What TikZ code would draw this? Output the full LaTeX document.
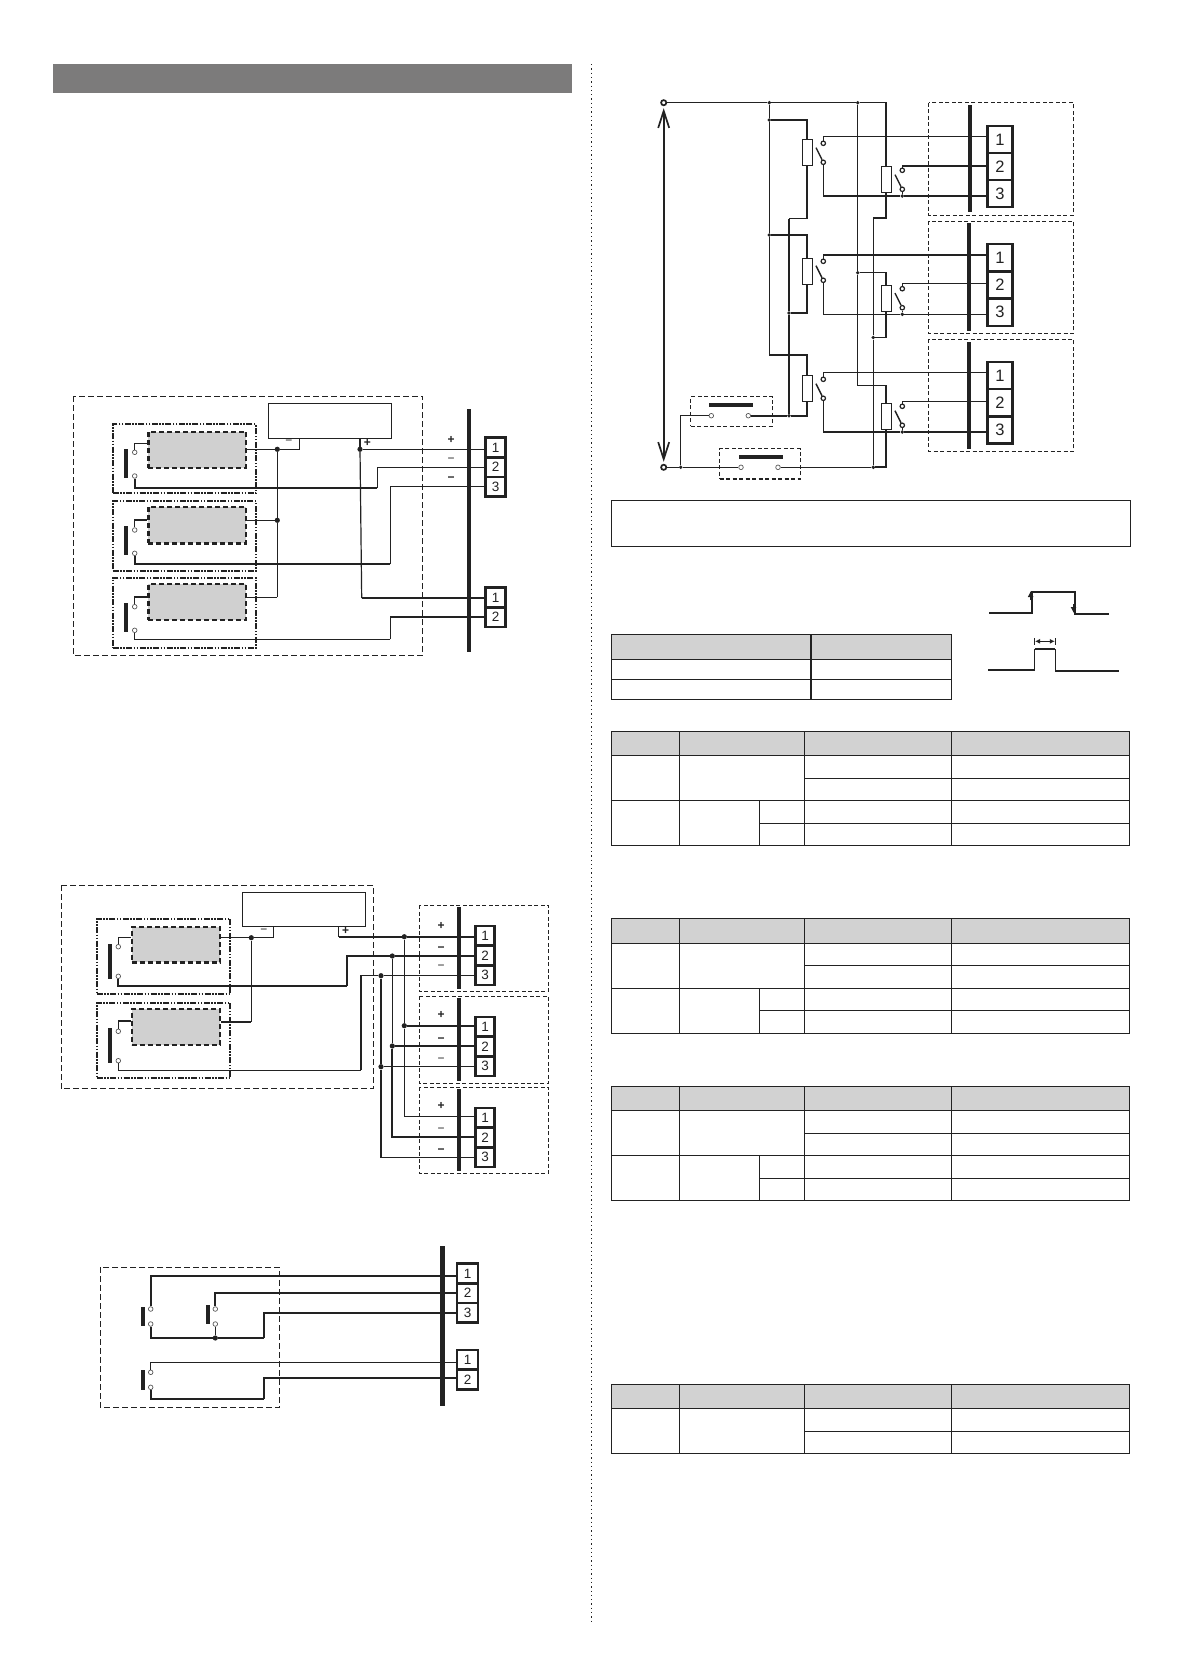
\documentclass[tikz,border=0pt]{standalone}
\usepackage{fontspec}
\setmainfont{Liberation Sans}
\usetikzlibrary{arrows.meta}
\definecolor{ink}{HTML}{222222}
\definecolor{hdr}{HTML}{D2D2D2}
\definecolor{banner}{HTML}{7C7B7B}
\definecolor{blk}{HTML}{D0D0D0}
\tikzset{
  wire/.style={line width=1.2pt,draw=ink},
  hwire/.style={line width=1.8pt,draw=ink},
  contact/.style={circle,draw=ink!75,fill=white,line width=.7pt,minimum size=4.6pt,inner sep=0pt},
  contactB/.style={circle,draw=ink,fill=white,line width=1.2pt,minimum size=4.4pt,inner sep=0pt},
  contactL/.style={circle,draw=ink,fill=white,line width=1.7pt,minimum size=5.2pt,inner sep=0pt},
  junc/.style={circle,fill=ink,minimum size=5.2pt,inner sep=0pt},
  juncS/.style={circle,fill=ink,minimum size=3.8pt,inner sep=0pt},
  barbox/.style={rectangle,fill=ink,inner sep=0pt,minimum width=3.6pt},
  busbar/.style={rectangle,fill=ink,inner sep=0pt,minimum width=4pt},
  term/.style={rectangle,draw=ink,line width=2.5pt,inner sep=0pt,text=ink,font=\fontsize{13.5}{13.5}\selectfont},
  termL/.style={term,font=\fontsize{16.5}{16.5}\selectfont},
  outerdash/.style={draw=ink,line width=.8pt,dash pattern=on 6pt off 3pt},
  dbox/.style={draw=ink,line width=.8pt,dash pattern=on 4pt off 2.5pt},
  relaybox/.style={rectangle,draw=ink,line width=1.9pt,inner sep=0pt,dash pattern=on 6pt off 1.5pt on 1.5pt off 1.5pt on 1.5pt off 1.5pt},
  grayblk/.style={rectangle,fill=blk,draw=ink,line width=2.4pt,inner sep=0pt,dash pattern=on 5pt off 3pt},
  psbox/.style={rectangle,draw=ink,line width=1.4pt,inner sep=0pt},
  coil/.style={rectangle,draw=ink,fill=white,line width=1pt,inner sep=0pt,minimum width=10pt,minimum height=26pt},
  swbox/.style={rectangle,draw=ink,line width=1.4pt,inner sep=0pt,dash pattern=on 4pt off 2.5pt},
  lever/.style={line width=1.4pt,draw=ink},
  pm/.style={inner sep=0pt,text=ink,font=\fontsize{12}{12}\selectfont},
  pmb/.style={inner sep=0pt,text=ink,font=\fontsize{12}{12}\selectfont\bfseries},
  tbl/.style={line width=1.1pt,draw=ink},
  vline/.style={line width=1.7pt,draw=ink,{Straight Barb[length=17pt,width=11pt,line width=1.7pt]}-{Straight Barb[length=17pt,width=11pt,line width=1.7pt]},shorten <=2pt,shorten >=2pt}
}
\newcommand{\termblock}[6]{% style, prefix, x, ytop, w, h ; count from \tcount
  \foreach \i in {1,...,\tcount}{
    \node[#1,minimum width=#5pt,minimum height=#6pt] (#2\i) at (#3,{#4+(\i-0.5)*#6}) {\i};
  }
}
\newcommand{\tcount}{3}
\newcommand{\relaycontact}[3]{%
  \node[contactB] (#1a) at (#2,#3) {};
  \node[contactB] (#1b) at (#2,{#3+19}) {};
  \coordinate (#1l) at ({#2-7.3},{#3+4.4});
  \draw[lever] (#1l) -- (#1b);
}
\newcommand{\gridtable}[6]{%
  \fill[hdr] (611.4,#1) rectangle (1129.5,#2);
  \draw[tbl] (611.4,#1) rectangle (1129.5,#6);
  \draw[tbl] (611.4,#2) -- (1129.5,#2);
  \draw[tbl] (804.2,#3) -- (1129.5,#3);
  \draw[tbl] (611.4,#4) -- (1129.5,#4);
  \draw[tbl] (759.4,#5) -- (1129.5,#5);
  \draw[tbl] (679.3,#1) -- (679.3,#6);
  \draw[tbl] (804.2,#1) -- (804.2,#6);
  \draw[tbl] (951.3,#1) -- (951.3,#6);
  \draw[tbl] (759.4,#4) -- (759.4,#6);
}
\begin{document}
\begin{tikzpicture}[x=1pt,y=-1pt]
\useasboundingbox (0,0) rectangle (1183,1676);
\fill[white] (0,0) rectangle (1183,1676);

% page furniture
\fill[banner] (53,64) rectangle (571.6,92.7);
\draw[ink,line width=1.2pt,dash pattern=on 1.3pt off 3pt] (591.6,64) -- (591.6,1622.7);
\draw[tbl] (611.8,500.3) rectangle (1130.8,546.3);

%%%%%%%%%%%%%% Diagram 1
\draw[outerdash] (73.3,396) rectangle (422.7,655.3);
\node[psbox,minimum width=123.4pt,minimum height=35pt] (ps1) at (330,420.8) {};
\node[relaybox,minimum width=143.3pt,minimum height=69pt] (r1) at (184.35,458.8) {};
\node[relaybox,minimum width=143.3pt,minimum height=69.7pt] (r2) at (184.35,535.85) {};
\node[relaybox,minimum width=143.3pt,minimum height=70pt] (r3) at (184.35,612.7) {};
\node[grayblk,minimum width=97.7pt,minimum height=36pt] (g1) at (197.15,449.7) {};
\node[grayblk,minimum width=97.7pt,minimum height=36.3pt] (g2) at (197.15,525.15) {};
\node[grayblk,minimum width=97.7pt,minimum height=36pt] (g3) at (197.15,602) {};
\node[barbox,minimum height=29pt] (b1) at (125.7,463.5) {};
\node[barbox,minimum height=29pt] (b2) at (125.7,540.2) {};
\node[barbox,minimum height=29pt] (b3) at (125.7,617.5) {};
\node[contact] (c1a) at (134.7,452.3) {};
\node[contact] (c1b) at (134.7,476) {};
\node[contact] (c2a) at (134.7,530) {};
\node[contact] (c2b) at (134.7,553.3) {};
\node[contact] (c3a) at (134.7,606.7) {};
\node[contact] (c3b) at (134.7,630.3) {};
\node[busbar,minimum height=242.4pt] (bus1) at (469,530.5) {};
\renewcommand{\tcount}{3}
\termblock{term}{TA}{495.5}{437.7}{20}{19.67}
\renewcommand{\tcount}{2}
\termblock{term}{TB}{495.5}{587.7}{20}{19.67}
\node[junc] (d1) at (277.3,449.3) {};
\node[junc] (d2) at (277.3,520.3) {};
\node[junc] (d3) at (360,449.3) {};
\coordinate (k1) at (377.3,487.7);
\coordinate (k2) at (390.3,564.3);
\coordinate (k3) at (390.3,639.3);
\coordinate (k4) at (361.7,598);
\coordinate (k5) at (277.3,597.3);
\draw[wire] (c1a) |- (g1.west |- 0,443.3);
\draw[wire] (c2a) |- (g2.west |- 0,520);
\draw[wire] (c3a) |- (g3.west |- 0,597);
\draw[hwire] (c1b) |- (k1);
\draw[wire] (k1) |- (TA2.west);
\draw[hwire] (c2b) |- (k2);
\draw[wire] (k2) |- (TA3.west);
\draw[wire] (c3b) |- (k3);
\draw[wire] (k3) |- (TB2.west |- 0,616.7);
\draw[hwire] (k3 |- 0,616.7) -- (TB2.west |- 0,616.7);
\draw[wire] (g1.east |- d1) -- (d1);
\draw[wire] (d1) -| (ps1.south -| 299.3,0);
\draw[wire] (g2.east |- d2) -- (d2);
\draw[wire] (g3.east |- k5) -- (k5);
\draw[wire] (k5) -- (d2);
\draw[wire] (d2) -- (d1);
\draw[wire] (d3) -- (d3 |- ps1.south);
\draw[wire] (d3) -- (d3 -| TA1.west);
\draw[wire] (d3) -- (k4);
\draw[wire] (k4) -- (k4 -| TB1.west);
\node[pm] (m1) at (289,442.7) {−};
\node[pmb] (m2) at (367.3,442.7) {+};
\node[pmb] (m3) at (451,440) {+};
\node[pm] (m4) at (451,460) {−};
\node[pmb] (m5) at (451,478.7) {−};

%%%%%%%%%%%%%% Diagram 2
\draw[outerdash] (61,885) rectangle (373.3,1088.7);
\draw[dbox] (419.3,905.3) rectangle (548.7,991.3);
\draw[dbox] (419.3,996.3) rectangle (548.7,1083.3);
\draw[dbox] (419.3,1087.3) rectangle (548.7,1173.3);
\node[psbox,minimum width=123.4pt,minimum height=33.6pt] (ps2) at (304,909.5) {};
\node[relaybox,minimum width=133.6pt,minimum height=75.3pt] (r4) at (163.5,956.35) {};
\node[relaybox,minimum width=133.6pt,minimum height=75.3pt] (r5) at (163.5,1040.35) {};
\node[grayblk,minimum width=88.3pt,minimum height=35.6pt] (g4) at (175.85,944.5) {};
\node[grayblk,minimum width=88.3pt,minimum height=35.7pt] (g5) at (175.85,1026.85) {};
\node[barbox,minimum height=34.7pt,minimum width=4pt] (b4) at (110,961.35) {};
\node[barbox,minimum height=34.7pt,minimum width=4pt] (b5) at (110,1045.35) {};
\node[contact] (c4a) at (118.3,946.7) {};
\node[contact] (c4b) at (118.3,976.3) {};
\node[contact] (c5a) at (118.3,1031.3) {};
\node[contact] (c5b) at (118.3,1060.7) {};
\node[busbar,minimum height=81.4pt] (bus2) at (459,948) {};
\node[busbar,minimum height=82.4pt] (bus3) at (459,1039.5) {};
\node[busbar,minimum height=81.7pt] (bus4) at (459,1129.85) {};
\renewcommand{\tcount}{3}
\termblock{term}{UA}{485}{926}{19}{19.67}
\termblock{term}{UB}{485}{1017}{19}{19.67}
\termblock{term}{UC}{485}{1108}{19}{19.67}
\node[junc] (e1) at (251.3,937.7) {};
\node[junc] (f1) at (404.3,936.7) {};
\node[junc] (f2) at (392.3,956) {};
\node[junc] (f3) at (381,975.7) {};
\node[junc] (h1) at (404.3,1025.7) {};
\node[junc] (h2) at (392.3,1046) {};
\node[junc] (h3) at (381,1066.7) {};
\coordinate (q1) at (347.3,985.7);
\coordinate (q2) at (361,1070.3);
\coordinate (q3) at (251.3,1021.7);
\coordinate (q4) at (338.7,936.7);
\draw[wire] (c4a) |- (g4.west |- 0,937.7);
\draw[wire] (c5a) |- (g5.west |- 0,1021);
\draw[hwire] (c4b) |- (q1);
\draw[hwire] (q1) |- (f2);
\draw[wire] (c5b) |- (q2);
\draw[wire] (q2) |- (f3);
\draw[wire] (g4.east |- e1) -- (e1);
\draw[wire] (e1) -| (ps2.south -| 273.3,0);
\draw[hwire] (g5.east |- q3) -- (q3);
\draw[wire] (q3) -- (e1);
\draw[wire] (ps2.south -| q4) -- (q4);
\draw[hwire] (q4) -- (f1);
\draw[hwire] (f1) -- (f1 -| UA1.west);
\draw[hwire] (f2) -- (f2 -| UA2.west);
\draw[wire] (f3) -- (f3 -| UA3.west);
\draw[hwire] (h1) -- (h1 -| UB1.west);
\draw[hwire] (h2) -- (h2 -| UB2.west);
\draw[wire] (h3) -- (h3 -| UB3.west);
\draw[wire] (f1) -- (h1);
\draw[wire] (f2) -- (h2);
\draw[wire] (f3) -- (h3);
\draw[wire] (h1) |- (UC1.west |- 0,1116.7);
\draw[hwire] (h2) |- (UC2.west |- 0,1136.7);
\draw[wire] (h3) |- (UC3.west |- 0,1157.3);
\node[pm] (m6) at (264,931) {−};
\node[pmb] (m7) at (345.7,931) {+};
\node[pmb] (m8) at (441,926) {+};
\node[pmb] (m9) at (441,949) {−};
\node[pm] (m10) at (441,967.3) {−};
\node[pmb] (m11) at (441,1015) {+};
\node[pmb] (m12) at (441,1039.7) {−};
\node[pm] (m13) at (441,1060.3) {−};
\node[pmb] (m14) at (441,1106) {+};
\node[pm] (m15) at (441,1130) {−};
\node[pmb] (m16) at (441,1150.7) {−};

%%%%%%%%%%%%%% Diagram 3
\draw[outerdash] (100.3,1267.3) rectangle (279.7,1407.3);
\node[barbox,minimum height=18.7pt,minimum width=4.3pt] (b6) at (142.7,1316.35) {};
\node[barbox,minimum height=18.7pt,minimum width=4.3pt] (b7) at (208,1314.35) {};
\node[barbox,minimum height=19.4pt,minimum width=4.3pt] (b8) at (142.7,1380) {};
\node[contact] (ca) at (150.7,1309) {};
\node[contact] (cb) at (150.7,1324) {};
\node[contact] (cc) at (215.3,1309) {};
\node[contact] (cd) at (215.3,1324) {};
\node[contact] (ce) at (150.7,1372.3) {};
\node[contact] (cf) at (150.7,1387.3) {};
\node[busbar,minimum height=159.7pt,minimum width=5pt] (bus5) at (442.3,1325.85) {};
\renewcommand{\tcount}{3}
\termblock{term}{VA}{467.5}{1263.7}{20.6}{19.67}
\renewcommand{\tcount}{2}
\termblock{term}{VB}{467.5}{1350}{20.6}{19.67}
\node[junc] (jx) at (215.3,1338) {};
\coordinate (v1) at (263.7,1338);
\coordinate (v2) at (263.7,1399.3);
\draw[hwire] (ca) |- (VA1.west |- 0,1276.3);
\draw[hwire] (cc) |- (VA2.west |- 0,1292.7);
\draw[hwire] (cb) |- (jx);
\draw[wire] (jx) -- (cd);
\draw[hwire] (jx) -- (v1);
\draw[hwire] (v1) |- (VA3.west |- 0,1312.7);
\draw[wire] (ce) |- (VB1.west |- 0,1362.3);
\draw[hwire] (cf) |- (v2);
\draw[hwire] (v2) |- (VB2.west |- 0,1378.3);

%%%%%%%%%%%%%% Diagram 4
\draw[dbox] (928.7,102.7) rectangle (1073.7,215);
\draw[dbox] (928.7,221.3) rectangle (1073.7,333.3);
\draw[dbox] (928.7,339.3) rectangle (1073.7,451.3);
\node[busbar,minimum height=106.4pt] (bus6) at (970,158.5) {};
\node[busbar,minimum height=107.4pt] (bus7) at (969,277) {};
\node[busbar,minimum height=106.4pt] (bus8) at (969,395.5) {};
\renewcommand{\tcount}{3}
\termblock{termL}{A}{1000}{126}{25}{27}
\termblock{termL}{B}{1000}{244}{25}{27.3}
\termblock{termL}{C}{1000}{362}{25}{27.2}
\node[contactL] (top) at (663.7,102.7) {};
\node[contactL] (bot) at (663.7,467.3) {};
\draw[vline] (top) -- (bot);
\node[juncS] (n1) at (769.3,102.7) {};
\node[juncS] (n2) at (857.7,102.7) {};
\node[juncS] (j1) at (769.3,120) {};
\node[juncS] (j2) at (769.3,235) {};
\node[juncS] (j3) at (789,313) {};
\node[juncS] (j4) at (789,415.7) {};
\node[juncS] (j5) at (857.7,272.7) {};
\node[juncS] (j6) at (873.3,337.5) {};
\node[juncS] (j7) at (873.3,467.3) {};
\node[juncS] (ja) at (680.7,467.3) {};
\node[juncS] (jA) at (902.3,196) {};
\node[juncS] (jB) at (902.3,314.3) {};
\node[juncS] (jC) at (902.3,432) {};
\node[coil] (R1) at (807,152.3) {};
\node[coil] (R2) at (807,271.5) {};
\node[coil] (R3) at (807,388.85) {};
\node[coil] (RA) at (886,179.7) {};
\node[coil] (RB) at (886,298.35) {};
\node[coil] (RC) at (886,416.15) {};
\coordinate (w1) at (789,218.7);
\coordinate (w2) at (769.3,354.7);
\coordinate (w3) at (857.7,385.7);
\coordinate (w4) at (873.3,218);
\relaycontact{k1}{823.3}{143.3}
\relaycontact{kA}{902.3}{170.3}
\relaycontact{k2}{823.3}{261.3}
\relaycontact{kB}{902.3}{288.7}
\relaycontact{k3}{823.3}{379.3}
\relaycontact{kC}{902.3}{406.3}
\node[swbox,minimum width=81.6pt,minimum height=29.6pt] (sw1) at (731.5,411.5) {};
\node[swbox,minimum width=80.6pt,minimum height=30.3pt] (sw2) at (760,463.85) {};
\node[barbox,minimum width=43.7pt,minimum height=3.3pt] (sb1) at (730.85,405) {};
\node[barbox,minimum width=44pt,minimum height=3.3pt] (sb2) at (761,457) {};
\node[contact] (s1a) at (711.3,415.7) {};
\node[contact] (s1b) at (748.3,415.7) {};
\node[contact] (s2a) at (741,467.3) {};
\node[contact] (s2b) at (778,467.3) {};
\draw[wire] (top) -- (n1);
\draw[wire] (n1) -- (n2);
\draw[wire] (n2) -| (RA.north);
\draw[wire] (n1) -- (j1);
\draw[wire] (j1) -- (j2);
\draw[wire] (j2) -- (w2);
\draw[hwire] (w2) -| (R3.north);
\draw[wire] (j1) -| (R1.north);
\draw[hwire] (j2) -| (R2.north);
\draw[wire] (R1.south) |- (w1);
\draw[wire] (w1) -- (j3);
\draw[wire] (R2.south) |- (j3);
\draw[wire] (j3) -- (j4);
\draw[hwire] (R3.south) |- (j4);
\draw[hwire] (j4) -- (s1b);
\draw[wire] (n2) -- (j5);
\draw[wire] (j5) -- (w3);
\draw[wire] (w3) -| (RC.north);
\draw[wire] (j5) -| (RB.north);
\draw[wire] (RA.south) |- (w4);
\draw[wire] (w4) -- (j6);
\draw[wire] (RB.south) |- (j6);
\draw[wire] (j6) -- (j7);
\draw[hwire] (RC.south) |- (j7);
\draw[wire] (j7) -- (s2b);
\draw[wire] (bot) -- (ja);
\draw[wire] (ja) -- (s2a);
\draw[wire] (ja) |- (s1a);
\draw[wire] (k1a) |- (A1.west |- 0,136.7);
\draw[wire] (kAa) |- (A2.west |- 0,166);
\draw[wire] (k1b) |- (jA);
\draw[wire] (kAb) -- (jA);
\draw[wire] (jA) -- (jA -| A3.west);
\draw[wire] (k2a) |- (B1.west |- 0,255);
\draw[wire] (kBa) |- (B2.west |- 0,283.7);
\draw[wire] (k2b) |- (jB);
\draw[wire] (kBb) -- (jB);
\draw[wire] (jB) -- (jB -| B3.west);
\draw[wire] (k3a) |- (C1.west |- 0,372.7);
\draw[wire] (kCa) |- (C2.west |- 0,401.7);
\draw[wire] (k3b) |- (jC);
\draw[wire] (kCb) -- (jC);
\draw[wire] (jC) -- (jC -| C3.west);

%%%%%%%%%%%%%% Waveforms
\coordinate (wa) at (989.1,612.7);
\coordinate (wb) at (1032.2,612.7);
\coordinate (wc) at (1032.2,591.7);
\coordinate (wd) at (1074.5,591.7);
\coordinate (we) at (1074.5,613.7);
\coordinate (wf) at (1109,613.7);
\draw[line width=2pt,draw=ink] (wa) -- (wb) -- (wc) -- (wd) -- (we) -- (wf);
\draw[ink,line width=1pt,-{Latex[length=6pt,width=6pt]}] (1030.6,600) -- (1030.6,591);
\draw[ink,line width=1pt,-{Latex[length=6pt,width=6pt]}] (1073.5,604) -- (1073.5,613);
\coordinate (xa) at (988,670);
\coordinate (xb) at (1034.6,670);
\coordinate (xc) at (1034.6,649);
\coordinate (xd) at (1055.2,649);
\coordinate (xe) at (1055.2,671);
\coordinate (xf) at (1118.9,671);
\draw[wire] (xa) -- (xb) -- (xc);
\draw[hwire] (xc) -- (xd);
\draw[wire] (xd) -- (xe) -- (xf);
\draw[ink,line width=1pt] (1034.6,638) -- (1034.6,645);
\draw[ink,line width=1pt] (1055.2,638) -- (1055.2,645);
\draw[ink,line width=1.1pt,{Latex[length=5pt,width=5pt]}-{Latex[length=5pt,width=5pt]}] (1035,641.3) -- (1054.8,641.3);

%%%%%%%%%%%%%% Tables
\fill[hdr] (611.8,634.3) rectangle (951.8,659.3);
\draw[tbl] (611.8,634.3) rectangle (951.8,699.3);
\draw[tbl] (611.8,659.3) -- (951.8,659.3);
\draw[tbl] (611.8,679.3) -- (951.8,679.3);
\draw[tbl] (811,634.3) -- (811,699.3);
\gridtable{731.3}{755.3}{778.3}{800.3}{823.3}{845.3}
\gridtable{918.3}{943.3}{965.3}{988.3}{1010.3}{1033.3}
\gridtable{1086.3}{1110.3}{1133.3}{1155.3}{1178.3}{1200.3}
\fill[hdr] (611.4,1384.3) rectangle (1129.5,1408.3);
\draw[tbl] (611.4,1384.3) rectangle (1129.5,1453.3);
\draw[tbl] (611.4,1408.3) -- (1129.5,1408.3);
\draw[tbl] (804.2,1431.3) -- (1129.5,1431.3);
\draw[tbl] (679.3,1384.3) -- (679.3,1453.3);
\draw[tbl] (804.2,1384.3) -- (804.2,1453.3);
\draw[tbl] (951.3,1384.3) -- (951.3,1453.3);
\end{tikzpicture}
\end{document}
